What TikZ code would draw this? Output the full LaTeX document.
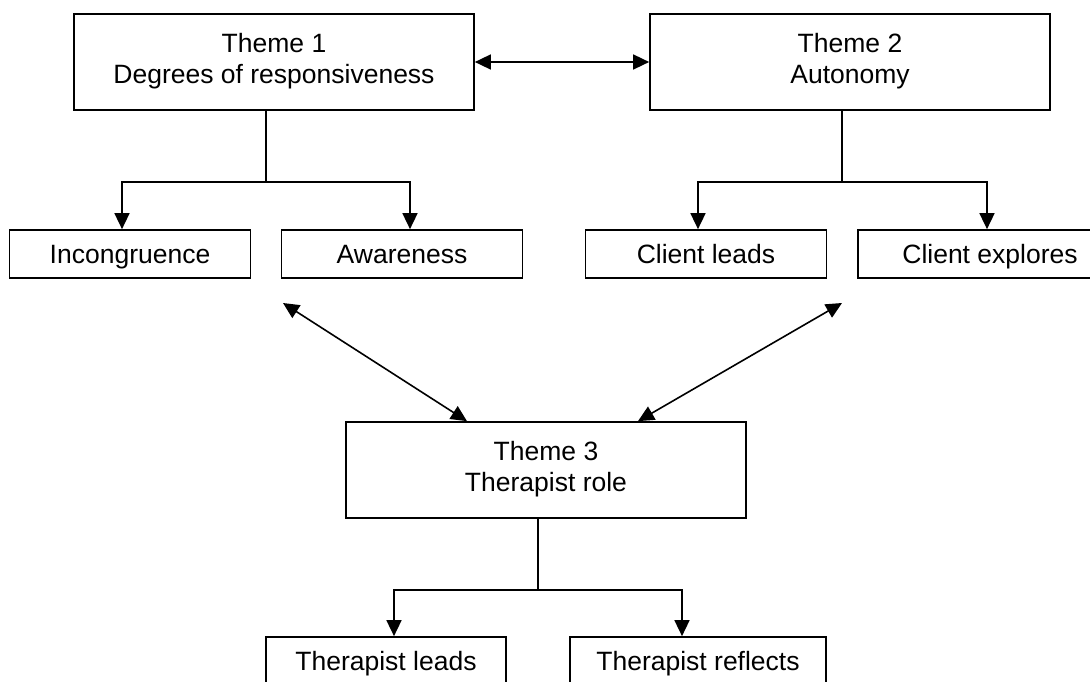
\documentclass[tikz,border=0pt]{standalone}
\usepackage{fontspec}
\setmainfont{Liberation Sans}
\usetikzlibrary{arrows.meta,positioning}
\tikzset{theme/.style={draw,line width=1.7pt,minimum width=400pt,minimum height=96pt,inner sep=0pt,align=center},
	sub/.style={draw,line width=1.7pt,minimum height=48pt,inner sep=0pt,text height=19pt,text depth=0pt}}

\begin{document}
\begin{tikzpicture}[line join=miter,line width=1.6pt,>={Triangle[length=16pt,width=15pt]},
		x=1pt,y=-1pt,font=\fontsize{26.5}{31}\selectfont]
		\clip (0,0) rectangle (1090,682);
		\node[theme] (t1) at (274,62) {Theme 1\\Degrees of responsiveness\rule[-7pt]{0pt}{7pt}};
		\node[theme] (t2) at (850,62) {Theme 2\\Autonomy\rule[-7pt]{0pt}{7pt}};
		\node[theme] (t3) at (546,470) {Theme 3\\Therapist role\rule[-7pt]{0pt}{7pt}};
		\node[sub,minimum width=241pt] (inc) at (130,254) {Incongruence};
		\node[sub,minimum width=241pt] (aw) at (402,254) {Awareness};
		\node[sub,minimum width=241pt] (cl) at (706,254) {Client leads};
		\node[sub,minimum width=264pt] (ce) at (990,254) {Client explores};
		\node[sub,minimum width=240pt] (tl) at (386,661) {Therapist leads};
		\node[sub,minimum width=256pt] (tr) at (698,661) {Therapist reflects};
		\draw[<->] (t1) -- (t2);
	%	diramazioni
		\coordinate (j1) at (266,182);
		\coordinate (j2) at (842,182);
		\coordinate (j3) at (538,590);
		\draw (t1.south -| j1) -- (j1);
		\draw[->] (j1) -| ([xshift=-8pt]inc.north);
		\draw[->] (j1) -| ([xshift=8pt]aw.north);
		\draw (t2.south -| j2) -- (j2);
		\draw[->] (j2) -| ([xshift=-8pt]cl.north);
		\draw[->] (j2) -| ([xshift=-3pt]ce.north);
		\draw (t3.south -| j3) -- (j3);
		\draw[->] (j3) -| ([xshift=8pt]tl.north);
		\draw[->] (j3) -| ([xshift=-16pt]tr.north);
	%	frecce oblique
		\coordinate (dl) at (283,303);
		\coordinate (dr) at (842,303);
		\draw[<->] (dl) -- ([xshift=-79pt]t3.north);
		\draw[<->] (dr) -- ([xshift=92pt]t3.north);
\end{tikzpicture}
\end{document}
